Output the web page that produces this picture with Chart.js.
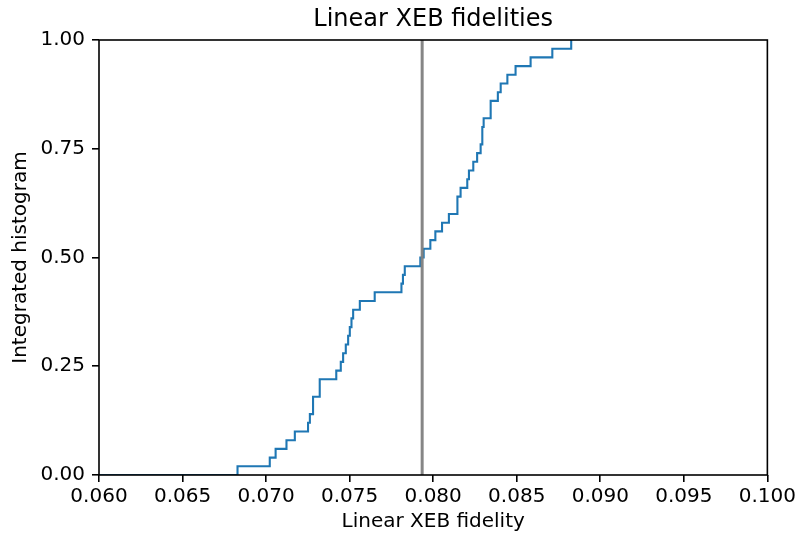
<!DOCTYPE html>
<html>
<head>
<meta charset="utf-8">
<title>Linear XEB fidelities</title>
<script src="https://cdn.jsdelivr.net/npm/chart.js@4"></script>
<style>
  html, body { margin: 0; padding: 0; background: #fff; }
  canvas { display: block; }
</style>
</head>
<body>
<canvas id="xebChart" width="799" height="537"></canvas>
<script>
// sorted per-circuit linear XEB fidelities (50 circuits)
const fidelities = [
    0.06829, 0.07022, 0.07057, 0.07122, 0.07172, 0.07251, 0.07262, 0.07281, 0.07281, 0.07321,
    0.07321, 0.07420, 0.07447, 0.07461, 0.07477, 0.07491, 0.07501, 0.07511, 0.07521, 0.07561,
    0.07650, 0.07810, 0.07819, 0.07830, 0.07923, 0.07943, 0.07983, 0.08013, 0.08053, 0.08094,
    0.08145, 0.08145, 0.08164, 0.08204, 0.08214, 0.08240, 0.08263, 0.08284, 0.08294, 0.08294,
    0.08302, 0.08344, 0.08344, 0.08387, 0.08404, 0.08444, 0.08493, 0.08583, 0.08713, 0.08826
];
const meanFidelity = 0.07934;
const xTicks = [0.060, 0.065, 0.070, 0.075, 0.080, 0.085, 0.090, 0.095, 0.100];
const yTicks = [0.00, 0.25, 0.50, 0.75, 1.00];

// integrated histogram: fraction of circuits at or below each fidelity
const cdfPoints = [{ x: xTicks[0], y: 0 }];
fidelities.forEach(function(f, i) {
    cdfPoints.push({ x: f, y: (i + 1) / fidelities.length });
});

const font = "'DejaVu Sans', sans-serif";

// box around the plot area, drawn over the data like matplotlib spines
const frame = {
    id: "frame",
    afterDatasetsDraw(chart) {
        const a = chart.chartArea;
        const c = chart.ctx;
        c.save();
        c.strokeStyle = "#000";
        c.lineWidth = 1.6;
        c.strokeRect(a.left, a.top, a.right - a.left, a.bottom - a.top);
        c.restore();
    }
};

const ctx = document.getElementById("xebChart").getContext("2d");

new Chart(ctx, {
    type: "line",
    data: {
        datasets: [
            {
                data: [{ x: meanFidelity, y: yTicks[0] }, { x: meanFidelity, y: yTicks[yTicks.length - 1] }],
                borderColor: "rgba(128,128,128,0.95)",
                borderWidth: 3,
                pointRadius: 0,
                order: 0
            },
            {
                data: cdfPoints,
                borderColor: "#1f77b4",
                borderWidth: 2.1,
                stepped: "before",
                pointRadius: 0,
                order: 1
            }
        ]
    },
    options: {
        responsive: false,
        animation: false,
        devicePixelRatio: 1,
        layout: { padding: { top: 0, right: 31, bottom: 0, left: 0 } },
        plugins: {
            legend: { display: false },
            tooltip: { enabled: false },
            title: {
                display: true,
                fullSize: false,
                text: "Linear XEB fidelities",
                color: "#000",
                font: { family: font, size: 24, weight: "normal" },
                padding: { top: 5, bottom: 6.2 }
            }
        },
        scales: {
            x: {
                type: "linear",
                min: xTicks[0],
                max: xTicks[xTicks.length - 1],
                afterBuildTicks: function(scale) {
                    scale.ticks = xTicks.map(function(v) { return { value: v }; });
                },
                afterFit: function(scale) { scale.height = 62; },
                ticks: {
                    color: "#000",
                    font: { family: font, size: 20 },
                    padding: 3,
                    maxRotation: 0,
                    callback: function(v) { return v.toFixed(3); }
                },
                grid: {
                    drawOnChartArea: false,
                    drawTicks: true,
                    tickLength: 7,
                    color: "#000",
                    lineWidth: 1.6
                },
                border: { display: false },
                title: {
                    display: true,
                    text: "Linear XEB fidelity",
                    color: "#000",
                    font: { family: font, size: 20 },
                    padding: { top: 0, bottom: 3 }
                }
            },
            y: {
                type: "linear",
                min: yTicks[0],
                max: yTicks[yTicks.length - 1],
                afterBuildTicks: function(scale) {
                    scale.ticks = yTicks.map(function(v) { return { value: v }; });
                },
                afterFit: function(scale) { scale.width = 99; },
                ticks: {
                    color: "#000",
                    font: { family: font, size: 20 },
                    padding: 7,
                    callback: function(v) { return v.toFixed(2); }
                },
                grid: {
                    drawOnChartArea: false,
                    drawTicks: true,
                    tickLength: 7,
                    color: "#000",
                    lineWidth: 1.6
                },
                border: { display: false },
                title: {
                    display: true,
                    text: "Integrated histogram",
                    color: "#000",
                    font: { family: font, size: 20 },
                    padding: { top: 9, bottom: 0 }
                }
            }
        }
    },
    plugins: [frame]
});
</script>
</body>
</html>
